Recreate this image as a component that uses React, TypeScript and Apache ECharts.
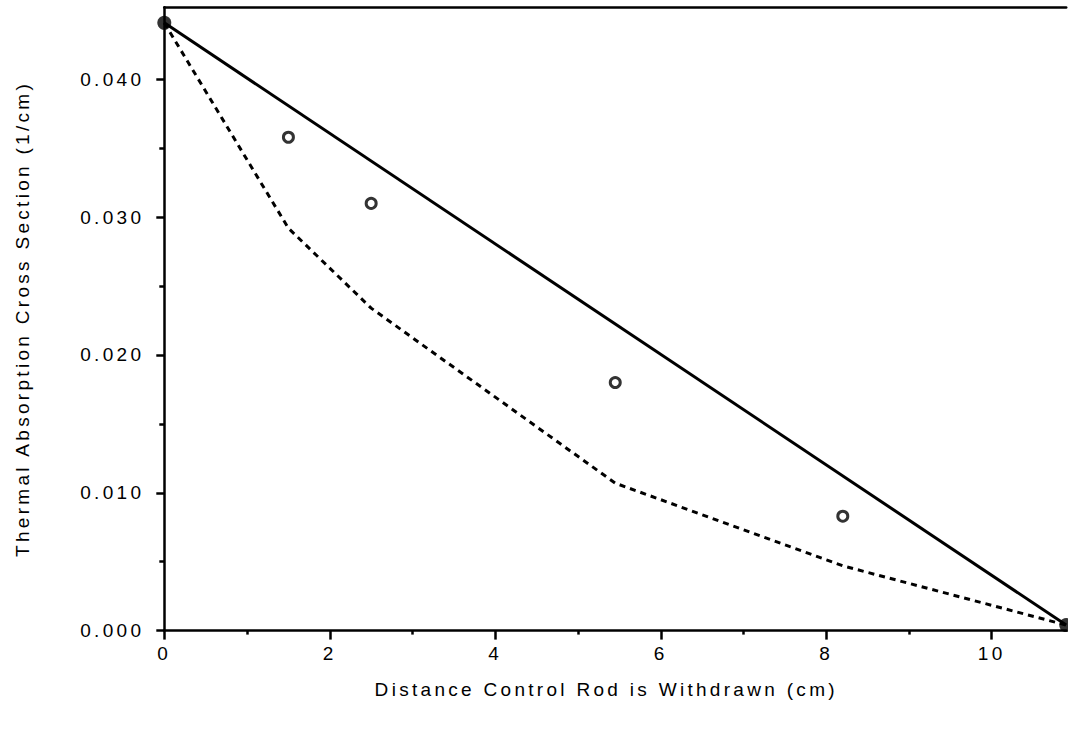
import React, { useEffect, useRef } from "react";
import * as echarts from "echarts";

const xTickValues = [0, 2, 4, 6, 8, 10];
const xMinorValues = [1, 3, 5, 7, 9];
const yTickValues = [0, 0.01, 0.02, 0.03, 0.04];
const yMinorValues = [0.005, 0.015, 0.025, 0.035];

const modelX = [0, 1.5, 2.5, 5.45, 8.2, 10.9];
const dashedY = [0.0441, 0.0292, 0.0234, 0.0107, 0.0047, 0.0004];
const solidX = [0, 10.9];
const solidY = [0.0441, 0.0004];
const obsX = [1.5, 2.5, 5.45, 8.2];
const obsY = [0.0358, 0.031, 0.018, 0.0083];
const endX = [0, 10.9];
const endY = [0.0441, 0.0004];

const FONT = "Liberation Sans";
const X_MAX = 10.9;
const Y_MAX = 0.04523;

export default function App() {
  const ref = useRef<HTMLDivElement>(null);
  useEffect(() => {
    if (!ref.current) return;
    const chart = echarts.init(ref.current, null, { renderer: "svg" });
    const zip = (xs: number[], ys: number[]) => xs.map((x, i) => [x, ys[i]]);
    const labelStyle = { color: "#000", fontFamily: FONT, fontSize: 19 };
    chart.setOption({
      animation: false,
      backgroundColor: "#fff",
      grid: { left: 164.3, right: 1.8, top: 7.3, bottom: 101.4, containLabel: false },
      xAxis: [
        {
          type: "value",
          min: 0,
          max: X_MAX,
          position: "bottom",
          name: "Distance Control Rod is Withdrawn (cm)",
          nameLocation: "middle",
          nameGap: 49,
          nameTextStyle: { ...labelStyle, padding: [0, 18, 0, 0] },
          axisLine: { show: true, onZero: false, lineStyle: { color: "#000", width: 2.5 } },
          axisTick: { show: true, customValues: xTickValues, length: 9, lineStyle: { color: "#000", width: 2.5 } },
          axisLabel: { customValues: xTickValues, margin: 13, ...labelStyle, formatter: (v: number) => String(v) },
          splitLine: { show: false },
        },
        {
          type: "value",
          min: 0,
          max: X_MAX,
          position: "bottom",
          axisLine: { show: false },
          axisTick: { show: true, customValues: xMinorValues, length: 4, lineStyle: { color: "#000", width: 2.5 } },
          axisLabel: { show: false },
          splitLine: { show: false },
        },
        {
          type: "value",
          min: 0,
          max: X_MAX,
          position: "top",
          axisLine: { show: true, onZero: false, lineStyle: { color: "#000", width: 2.5 } },
          axisTick: { show: false },
          axisLabel: { show: false },
          splitLine: { show: false },
        },
      ],
      yAxis: [
        {
          type: "value",
          min: 0,
          max: Y_MAX,
          position: "left",
          name: "Thermal Absorption Cross Section (1/cm)",
          nameLocation: "middle",
          nameGap: 132,
          nameTextStyle: { ...labelStyle },
          axisLine: { show: true, onZero: false, lineStyle: { color: "#000", width: 2.5 } },
          axisTick: { show: true, customValues: yTickValues, length: 8, lineStyle: { color: "#000", width: 2.5 } },
          axisLabel: { customValues: yTickValues, margin: 20, ...labelStyle, formatter: (v: number) => v.toFixed(3) },
          splitLine: { show: false },
        },
        {
          type: "value",
          min: 0,
          max: Y_MAX,
          position: "left",
          axisLine: { show: false },
          axisTick: { show: true, customValues: yMinorValues, length: 5, lineStyle: { color: "#000", width: 2.5 } },
          axisLabel: { show: false },
          splitLine: { show: false },
        },
      ],
      series: [
        {
          type: "line",
          data: zip(modelX, dashedY),
          symbol: "none",
          lineStyle: { color: "#000", width: 3, type: [6, 5] },
          z: 2,
        },
        {
          type: "line",
          data: zip(solidX, solidY),
          symbol: "none",
          lineStyle: { color: "#000", width: 3 },
          z: 2,
        },
        {
          type: "scatter",
          data: zip(obsX, obsY),
          symbol: "circle",
          symbolSize: 10,
          itemStyle: { color: "#fff", borderColor: "#000", borderWidth: 3 },
          z: 3,
        },
        {
          type: "scatter",
          data: zip(endX, endY),
          symbol: "circle",
          symbolSize: 14,
          itemStyle: { color: "#000" },
          z: 4,
        },
      ],
    });
    const space = () => {
      ref.current?.querySelectorAll("text").forEach((t) => {
        t.setAttribute("letter-spacing", "3.3");
      });
    };
    space();
    chart.on("finished", space);
    return () => chart.dispose();
  }, []);
  return (
    <div
      ref={ref}
      style={{ position: "fixed", left: 0, top: 0, width: 1068, height: 732, background: "#fff" }}
    />
  );
}
